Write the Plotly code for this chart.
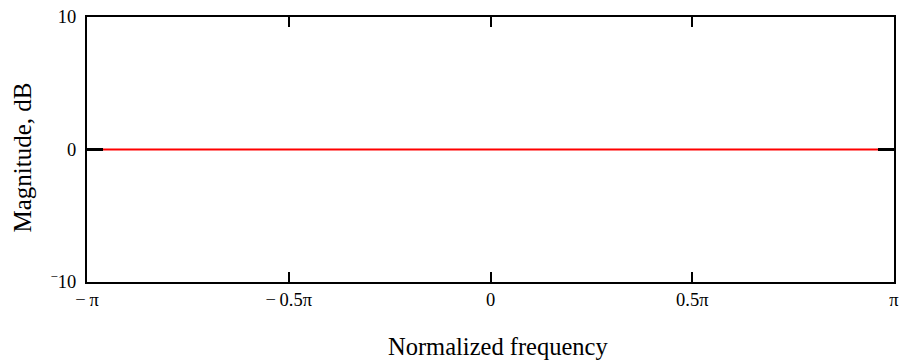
import plotly.graph_objects as go
import math

# Data: magnitude is flat at 0 dB over the whole band
freq = [-math.pi, -0.75 * math.pi, -0.5 * math.pi, -0.25 * math.pi, 0.0,
        0.25 * math.pi, 0.5 * math.pi, 0.75 * math.pi, math.pi]
magnitude_db = [0, 0, 0, 0, 0, 0, 0, 0, 0]

x_tickvals = [-math.pi, -0.5 * math.pi, 0.0, 0.5 * math.pi, math.pi]
x_ticktext = ["\u2212\u2009\u03c0", "\u2212\u20090.5\u03c0", "0", "0.5\u03c0", "\u03c0"]
y_tickvals = [-10, 0, 10]
y_ticktext = ["<sup>\u2212</sup>10", "0", "10"]

FONT = "Liberation Serif, Times New Roman, serif"

fig = go.Figure()
fig.add_trace(go.Scatter(x=freq, y=magnitude_db, mode="lines",
                         line=dict(color="#ff0000", width=2),
                         showlegend=False, hoverinfo="skip"))

fig.update_layout(
    width=899, height=361,
    margin=dict(l=87, r=5, t=17, b=79),
    paper_bgcolor="white", plot_bgcolor="white",
    font=dict(family=FONT, size=18, color="black"),
    xaxis=dict(range=[-math.pi, math.pi], tickvals=x_tickvals, ticktext=x_ticktext,
               ticks="inside", ticklen=10, tickwidth=2, tickcolor="black",
               showline=True, linecolor="black", linewidth=2, mirror="ticks",
               showgrid=False, zeroline=False, automargin=False,
               ticklabeloverflow="allow",
               tickfont=dict(family=FONT, size=18.5)),
    yaxis=dict(range=[-10, 10], tickvals=y_tickvals, ticktext=y_ticktext,
               ticks="inside", ticklen=16, tickwidth=3, tickcolor="black",
               showline=True, linecolor="black", linewidth=2, mirror="ticks",
               showgrid=False, zeroline=False, automargin=False,
               ticklabeloverflow="allow", ticklabelstandoff=5,
               tickfont=dict(family=FONT, size=18.5)),
    annotations=[
        dict(text="Normalized frequency", xref="x", x=0, yref="paper", y=0,
             xanchor="center", yanchor="middle", xshift=7, yshift=-64,
             showarrow=False, font=dict(family=FONT, size=24.5)),
        dict(text="Magnitude, dB", xref="paper", x=0, yref="y", y=0,
             xanchor="center", yanchor="middle", xshift=-65, yshift=-8,
             textangle=-90, showarrow=False, font=dict(family=FONT, size=25)),
    ],
)

fig.write_html(
    "out.html",
    config={"displayModeBar": False},
    post_script="document.body.style.margin='0';document.body.style.overflow='hidden';",
)
